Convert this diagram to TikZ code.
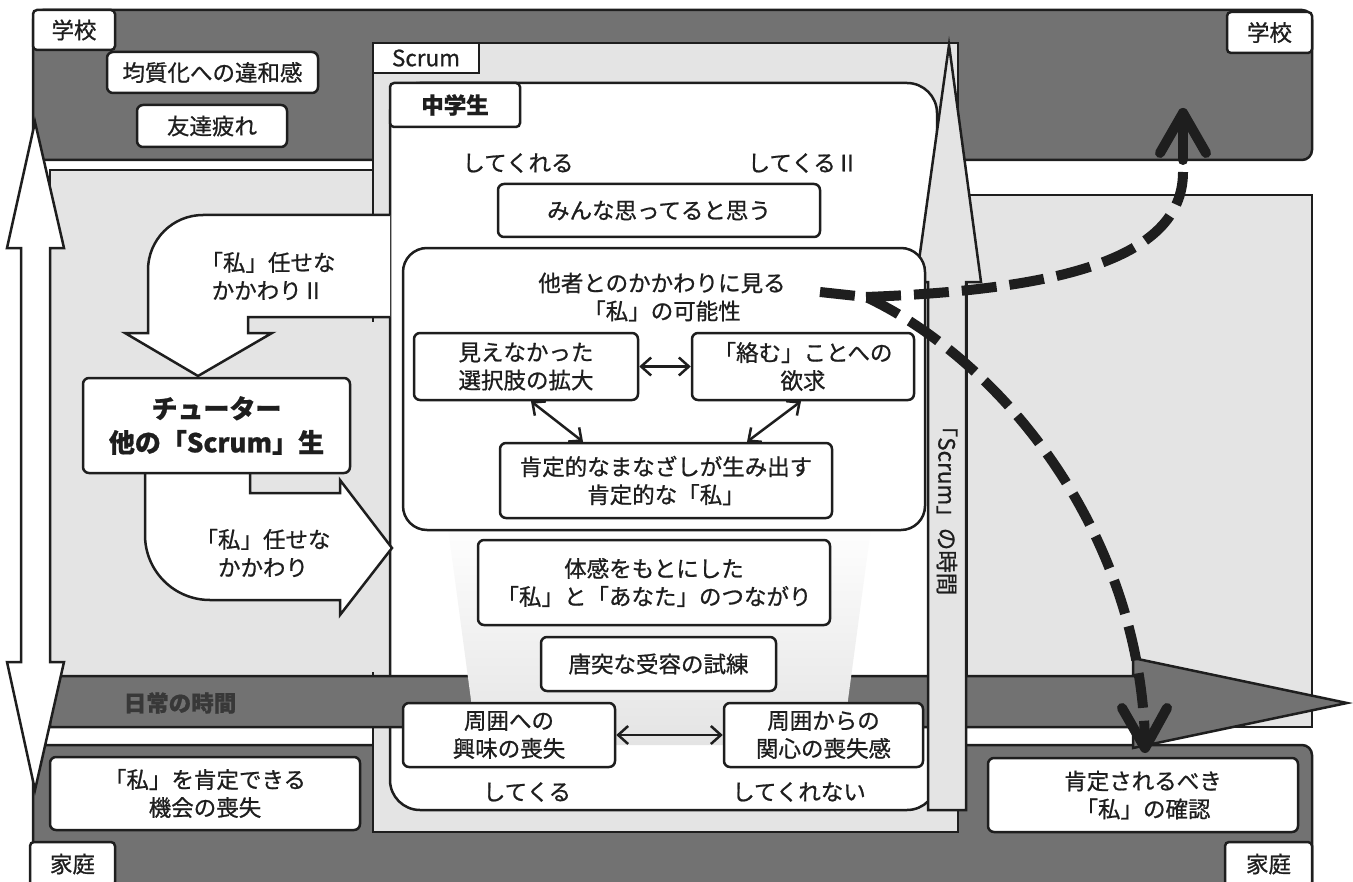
\documentclass[tikz,border=0pt]{standalone}
\usepackage{fontspec}
\setmainfont{Noto Sans CJK JP}[RawFeature={embolden=0.8}]
\usetikzlibrary{arrows.meta}
\definecolor{D}{HTML}{727272}
\definecolor{L}{HTML}{E4E4E4}
\definecolor{K}{HTML}{1E1E1E}
\definecolor{DT}{HTML}{383838}
\newcommand\myfs{\fontsize{11.25}{14}\selectfont}
\newcommand\mybigfs{\fontsize{13}{17}\selectfont}
\begin{document}
\begin{tikzpicture}[x=0.5pt,y=-0.5pt,line width=1.25pt,
  band/.style={draw=K,fill=D,line width=1.25pt},
  reg/.style={draw=K,fill=L,line width=1.25pt},
  box/.style={draw=K,fill=white,rounded corners=3pt,line width=1.25pt,align=center,inner sep=0pt,text=K,font=\myfs},
  lbl/.style={draw=K,fill=white,rounded corners=2pt,line width=1.25pt,inner sep=0pt,text=K,font=\myfs},
  txt/.style={align=center,text=K,font=\myfs,inner sep=0pt},
  wa/.style={draw=K,fill=white,line width=1.25pt,line join=miter},
  dbl/.style={{Straight Barb[length=5pt,width=9pt]}-{Straight Barb[length=5pt,width=9pt]},line width=1.25pt,draw=K},
  dsh/.style={draw=K,line width=5pt,dash pattern=on 17.5pt off 6.5pt},
  chev/.style={draw=K,line width=5pt,line cap=round,line join=round}]
\useasboundingbox (0,0) rectangle (1353,882);
% background bands
\draw[band,rounded corners=5pt] (33,10) rectangle (1312,160);
\draw[band,rounded corners=5pt] (33,745) rectangle (1312,905);
\draw[reg] (967,195) rectangle (1312,727);
\draw[reg] (373,43) rectangle (958,832);
\draw[reg] (50,170) rectangle (373,676);
\fill[L] (363,322) rectangle (385,672);
% junior high box
\draw[draw=K,fill=white,rounded corners=15pt] (390,83) rectangle (937,810);
% everyday time band
\draw[band] (50,676) -- (1133,676) -- (1133,658) -- (1347,703) -- (1133,748) -- (1133,727) -- (50,727) -- cycle;
\shade[top color=white,bottom color=L] (447,520) -- (872,520) -- (842,745) -- (477,745) -- cycle;
% U arrows
\draw[wa] (390,215) -- (203,215) .. controls (172.6,215) and (148,239.6) .. (148,270) -- (148,333) -- (125,333) -- (198,376) -- (272,333) -- (248,333) -- (248,317) -- (390,317);
\draw[wa] (145,473) -- (145,535) .. controls (145,571) and (174,600) .. (210,600) -- (340,600) -- (340,615) -- (392,548) -- (340,480) -- (340,493) -- (250,493) -- (250,473);
% left double arrow
\draw[wa] (35,122) -- (64,248) -- (50,248) -- (50,662) -- (64,662) -- (35,790) -- (7,662) -- (21,662) -- (21,248) -- (7,248) -- cycle;
% Scrum time arrow
\draw[reg] (949,45) -- (981,282) -- (966,282) -- (966,810) -- (928,810) -- (928,282) -- (916,282) -- cycle;
\node[txt,rotate=-90] (scrumtime) at (947,505) {「Scrum」の時間};
% labels
\node[lbl,minimum width=41pt,minimum height=20pt] (schoolL) at (74,30) {学校};
\node[lbl,minimum width=42.5pt,minimum height=20.5pt] (schoolR) at (1269.5,32.5) {学校};
\node[lbl,minimum width=42.5pt,minimum height=22pt] (homeL) at (72.5,864) {家庭};
\node[lbl,minimum width=43.5pt,minimum height=22pt] (homeR) at (1268.5,864) {家庭};
\node[lbl,rounded corners=0pt,minimum width=53pt,minimum height=15pt] (scrum) at (426,58) {Scrum};
\node[lbl,minimum width=65pt,minimum height=22pt,font=\myfs\bfseries] (chu) at (455,105) {中学生};
% school boxes
\node[box,minimum width=105.5pt,minimum height=20.5pt] (iwakan) at (212.5,72.5) {均質化への違和感};
\node[box,minimum width=75pt,minimum height=21pt] (tukare) at (212,126) {友達疲れ};
% left side
\node[box,minimum width=133.5pt,minimum height=47.5pt,font=\mybigfs\bfseries] (tutor) at (216.5,425.5) {チューター\\他の「Scrum」生};
\node[txt] (makase2) at (268,276) {「私」任せな\\かかわりⅡ};
\node[txt] (makase) at (263,553) {「私」任せな\\かかわり};
\node[font=\myfs\bfseries,text=DT,inner sep=0pt] (nichijo) at (180,703) {日常の時間};
\node[box,minimum width=155pt,minimum height=36.5pt] (kikai) at (205,793.5) {「私」を肯定できる\\機会の喪失};
% right side
\node[box,minimum width=155pt,minimum height=37pt] (kakunin) at (1143,795) {肯定されるべき\\「私」の確認};
% inside junior high
\node[txt] (kureru) at (518,163) {してくれる};
\node[txt] (kuru2) at (803,163) {してくるⅡ};
\node[box,minimum width=161pt,minimum height=26.5pt] (minna) at (659,210.5) {みんな思ってると思う};
\node[draw=K,fill=white,rounded corners=12pt,line width=1.25pt,minimum width=261pt,minimum height=141pt,inner sep=0pt] (tasha) at (664,389) {};
\node[txt] (tashaT) at (662,297) {他者とのかかわりに見る\\「私」の可能性};
\node[box,minimum width=112pt,minimum height=33.5pt] (mie) at (526,366.5) {見えなかった\\選択肢の拡大};
\node[box,minimum width=111pt,minimum height=33.5pt] (karamu) at (803,366.5) {「絡む」ことへの\\欲求};
\node[box,minimum width=166pt,minimum height=37.5pt] (koutei) at (666,480.5) {肯定的なまなざしが生み出す\\肯定的な「私」};
\node[box,minimum width=176pt,minimum height=42.5pt] (taikan) at (654,582.5) {体感をもとにした\\「私」と「あなた」のつながり};
\node[box,minimum width=117.5pt,minimum height=27pt] (toutotsu) at (658.5,664) {唐突な受容の試練};
\node[box,minimum width=106pt,minimum height=32pt] (shui1) at (509,735) {周囲への\\興味の喪失};
\node[box,minimum width=99.5pt,minimum height=32pt] (shui2) at (823.5,735) {周囲からの\\関心の喪失感};
\node[txt] (kuru) at (527,792) {してくる};
\node[txt] (kurenai) at (799,792) {してくれない};
% inner arrows
\draw[dbl] (mie.east) -- (karamu.west);
\draw[dbl] ([xshift=2.5pt]mie.south) -- ([xshift=-41.5pt]koutei.north);
\draw[dbl] ([xshift=-1pt]karamu.south) -- ([xshift=40.5pt]koutei.north);
\draw[dbl] (shui1.east) -- (shui2.west);
% dashed arrows
\coordinate (ds) at (820,292);
\coordinate (dj) at (866,297);
\coordinate (ue) at (1183,172);
\coordinate (us) at (1183,160);
\coordinate (utip) at (1183,113);
\coordinate (uwl) at (1160,153);
\coordinate (uwr) at (1206,153);
\coordinate (le) at (1145,742);
\coordinate (ltip) at (1145,748);
\coordinate (lwl) at (1122,708);
\coordinate (lwr) at (1167,708);
\draw[dsh] (ds) -- (dj) .. controls (1000,360) and (1140,530) .. (le);
\draw[dsh] (dj) .. controls (1050,290) and (1183,262) .. (ue);
\draw[chev] (us) -- (utip);
\draw[chev] (uwl) -- (utip) -- (uwr);
\draw[chev] (lwl) -- (ltip) -- (lwr);
\end{tikzpicture}
\end{document}
